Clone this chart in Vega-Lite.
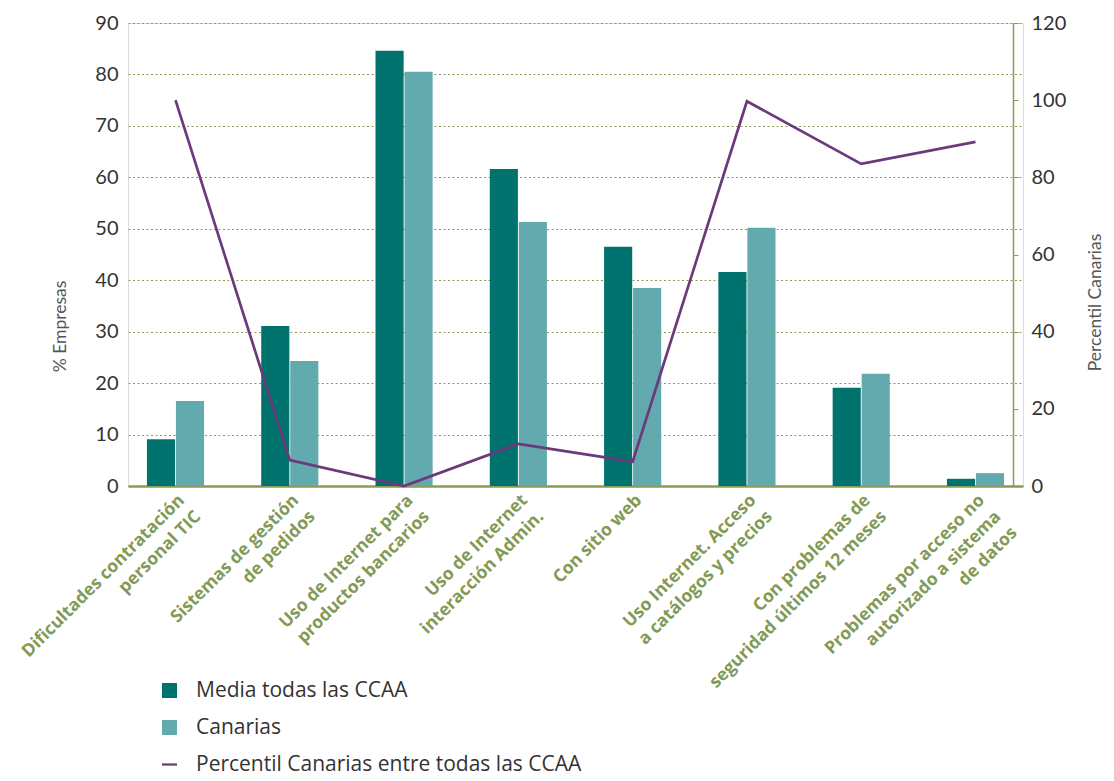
{
  "$schema": "https://vega.github.io/schema/vega-lite/v6.json",
  "autosize": "none",
  "width": 895,
  "height": 463,
  "padding": {"left": 128, "top": 23, "right": 91, "bottom": 295},
  "background": "white",
  "datasets": {
    "barras": [
      {"cat": "Dificultades contratación|personal TIC", "serie": "Media todas las CCAA", "valor": 9.1},
      {"cat": "Dificultades contratación|personal TIC", "serie": "Canarias", "valor": 16.5},
      {"cat": "Sistemas de gestión|de pedidos", "serie": "Media todas las CCAA", "valor": 31.1},
      {"cat": "Sistemas de gestión|de pedidos", "serie": "Canarias", "valor": 24.3},
      {"cat": "Uso de Internet para|productos bancarios", "serie": "Media todas las CCAA", "valor": 84.6},
      {"cat": "Uso de Internet para|productos bancarios", "serie": "Canarias", "valor": 80.5},
      {"cat": "Uso de Internet|interacción Admin.", "serie": "Media todas las CCAA", "valor": 61.6},
      {"cat": "Uso de Internet|interacción Admin.", "serie": "Canarias", "valor": 51.3},
      {"cat": "Con sitio web", "serie": "Media todas las CCAA", "valor": 46.5},
      {"cat": "Con sitio web", "serie": "Canarias", "valor": 38.5},
      {"cat": "Uso Internet. Acceso|a catálogos y precios", "serie": "Media todas las CCAA", "valor": 41.6},
      {"cat": "Uso Internet. Acceso|a catálogos y precios", "serie": "Canarias", "valor": 50.2},
      {"cat": "Con problemas de|seguridad últimos 12 meses", "serie": "Media todas las CCAA", "valor": 19.1},
      {"cat": "Con problemas de|seguridad últimos 12 meses", "serie": "Canarias", "valor": 21.8},
      {"cat": "Problemas por acceso no|autorizado a sistema|de datos", "serie": "Media todas las CCAA", "valor": 1.4},
      {"cat": "Problemas por acceso no|autorizado a sistema|de datos", "serie": "Canarias", "valor": 2.5}
    ],
    "linea": [
      {"cat": "Dificultades contratación|personal TIC", "serie": "Percentil Canarias entre todas las CCAA", "pct": 100},
      {"cat": "Sistemas de gestión|de pedidos", "serie": "Percentil Canarias entre todas las CCAA", "pct": 6.7},
      {"cat": "Uso de Internet para|productos bancarios", "serie": "Percentil Canarias entre todas las CCAA", "pct": 0},
      {"cat": "Uso de Internet|interacción Admin.", "serie": "Percentil Canarias entre todas las CCAA", "pct": 10.9},
      {"cat": "Con sitio web", "serie": "Percentil Canarias entre todas las CCAA", "pct": 6.3},
      {"cat": "Uso Internet. Acceso|a catálogos y precios", "serie": "Percentil Canarias entre todas las CCAA", "pct": 99.7},
      {"cat": "Con problemas de|seguridad últimos 12 meses", "serie": "Percentil Canarias entre todas las CCAA", "pct": 83.5},
      {"cat": "Problemas por acceso no|autorizado a sistema|de datos", "serie": "Percentil Canarias entre todas las CCAA", "pct": 89.2}
    ]
  },
  "layer": [
    {
      "data": {"name": "barras"},
      "mark": {"type": "bar"},
      "encoding": {
        "x": {
          "field": "cat", "type": "nominal", "sort": null,
          "scale": {"paddingInner": 0.5, "paddingOuter": 0.1656},
          "axis": {
            "title": null,
            "labelAngle": -45,
            "labelAlign": "right",
            "labelBaseline": "top",
            "labelExpr": "split(datum.label, '|')",
            "labelFont": "Open Sans",
            "labelFontWeight": "bold",
            "labelFontSize": 17.5,
            "labelLineHeight": 23,
            "labelColor": "#829a55",
            "labelPadding": 5,
            "labelLimit": 0,
            "labelOverlap": false,
            "ticks": false,
            "domainColor": "#8c9a55",
            "domainWidth": 2.5
          }
        },
        "xOffset": {"field": "serie", "sort": ["Media todas las CCAA", "Canarias"], "scale": {"paddingInner": 0.03}},
        "y": {
          "field": "valor", "type": "quantitative",
          "scale": {"domain": [0, 90]},
          "axis": {
            "title": "% Empresas",
            "values": [0, 10, 20, 30, 40, 50, 60, 70, 80, 90],
            "grid": true,
            "gridColor": "#8c9a55",
            "gridDash": [2, 2.5],
            "gridWidth": 1.2,
            "domain": false,
            "ticks": false,
            "labelPadding": 10,
            "labelFont": "Lato",
            "labelFontSize": 20,
            "labelColor": "#333333",
            "titleFont": "Lato",
            "titleFontSize": 17.5,
            "titleFontWeight": "normal",
            "titleColor": "#555555",
            "titleAngle": -90,
            "titleAlign": "center",
            "titleBaseline": "middle",
            "titleX": -68,
            "titleY": 303
          }
        },
        "color": {
          "field": "serie", "type": "nominal",
          "scale": {
            "domain": ["Media todas las CCAA", "Canarias", "Percentil Canarias entre todas las CCAA"],
            "range": ["#00736f", "#63aaae", "#6b3a7a"]
          },
          "legend": {
            "orient": "none",
            "legendX": 31,
            "legendY": 657,
            "title": null,
            "direction": "vertical",
            "padding": 0,
            "symbolType": "square",
            "symbolSize": 225,
            "symbolStrokeWidth": 0,
            "symbolOpacity": 1,
            "labelFont": "Open Sans",
            "labelFontSize": 21,
            "labelColor": "#333333",
            "labelOffset": 16,
            "rowPadding": 15,
            "labelLimit": 0,
            "encode": {
              "symbols": {
                "update": {
                  "shape": {"signal": "datum.value == 'Percentil Canarias entre todas las CCAA' ? 'M-1,-0.15H1V0.15H-1Z' : 'square'"}
                }
              }
            }
          }
        }
      }
    },
    {
      "data": {"name": "linea"},
      "mark": {"type": "line", "strokeWidth": 2.7},
      "encoding": {
        "x": {"field": "cat", "type": "nominal", "sort": null},
        "y": {
          "field": "pct", "type": "quantitative",
          "scale": {"domain": [0, 120]},
          "axis": {
            "orient": "right",
            "offset": -10,
            "title": "Percentil Canarias",
            "values": [0, 20, 40, 60, 80, 100, 120],
            "grid": false,
            "domainColor": "#8c9a55",
            "domainWidth": 1.5,
            "tickColor": "#8c9a55",
            "tickSize": 5,
            "labelPadding": 13,
            "labelFont": "Lato",
            "labelFontSize": 20,
            "labelColor": "#333333",
            "titleFont": "Lato",
            "titleFontSize": 17.5,
            "titleFontWeight": "normal",
            "titleColor": "#555555",
            "titleAngle": -90,
            "titleAlign": "center",
            "titleBaseline": "middle",
            "titleX": 82,
            "titleY": 279
          }
        },
        "color": {"field": "serie", "type": "nominal"}
      }
    }
  ],
  "resolve": {"scale": {"y": "independent"}}
}
